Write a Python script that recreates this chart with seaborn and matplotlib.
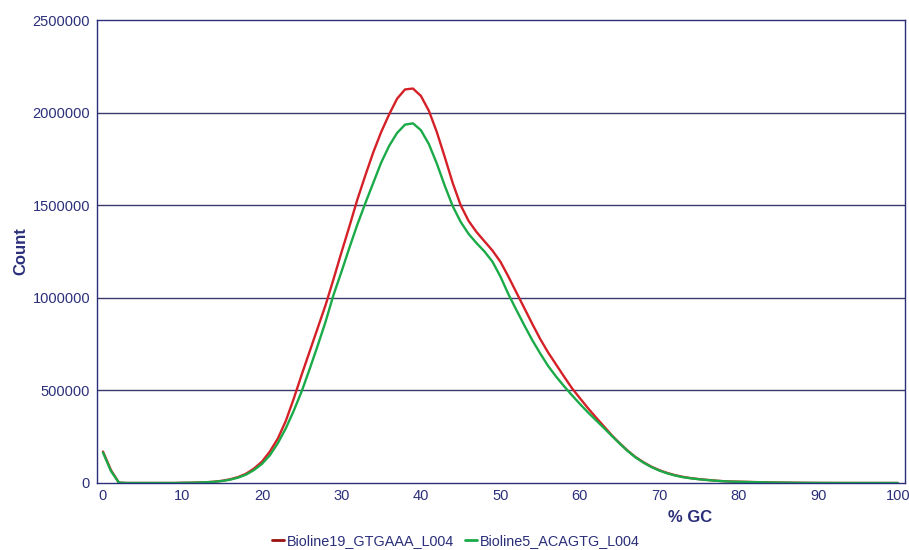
import numpy as np
import pandas as pd
import matplotlib
matplotlib.use("Agg")
import matplotlib.pyplot as plt
import seaborn as sns
from matplotlib.lines import Line2D

gc_percent = list(range(0, 101))

bioline19 = [170000, 70000, 2000, 0, 0, 0, 0, 0, 0, 0,
             1000, 1500, 2500, 4000, 7000, 12000, 20000, 32000, 50000, 78000,
             115000, 170000, 240000, 335000, 455000, 585000, 710000, 835000, 960000, 1100000,
             1245000, 1385000, 1530000, 1660000, 1785000, 1895000, 1990000, 2075000, 2125000, 2130000,
             2090000, 2010000, 1895000, 1760000, 1620000, 1500000, 1415000, 1355000, 1305000, 1255000,
             1195000, 1115000, 1030000, 945000, 860000, 778000, 705000, 640000, 575000, 512000,
             458000, 405000, 355000, 307000, 258000, 215000, 175000, 140000, 112000, 88000,
             69000, 54000, 42000, 33000, 26000, 21000, 17000, 13000, 10000, 8000,
             7000, 6000, 5000, 4000, 3000, 2500, 2000, 1500, 1000, 700,
             500, 300, 200, 100, 50, 0, 0, 0, 0, 0, 0]

bioline5 = [165000, 65000, 2000, 0, 0, 0, 0, 0, 0, 0,
            1000, 1500, 2500, 4000, 6500, 11000, 18000, 29000, 45000, 70000,
            103000, 150000, 215000, 295000, 390000, 495000, 615000, 740000, 870000, 1015000,
            1140000, 1270000, 1395000, 1510000, 1620000, 1730000, 1820000, 1890000, 1935000, 1942000,
            1905000, 1830000, 1725000, 1605000, 1495000, 1410000, 1345000, 1295000, 1250000, 1195000,
            1115000, 1020000, 935000, 852000, 772000, 700000, 632000, 575000, 523000, 474000,
            427000, 382000, 340000, 298000, 255000, 213000, 173000, 138000, 110000, 86000,
            67000, 52000, 40000, 31000, 25000, 20000, 16000, 12500, 9500, 7500,
            6500, 5500, 4500, 3500, 2800, 2200, 1700, 1200, 800, 500,
            300, 200, 100, 50, 0, 0, 0, 0, 0, 0, 0]

series_names = ["Bioline19_GTGAAA_L004", "Bioline5_ACAGTG_L004"]
y_ticks = [0, 500000, 1000000, 1500000, 2000000, 2500000]
x_ticks = list(range(0, 101, 10))

df = pd.DataFrame({
    "gc": gc_percent * 2,
    "count": bioline19 + bioline5,
    "series": [series_names[0]] * len(gc_percent) + [series_names[1]] * len(gc_percent),
})

sns.set_style("white")
plt.rcParams["font.family"] = ["Liberation Sans", "DejaVu Sans"]

navy = "#2b2f7a"
fig = plt.figure(figsize=(9.09, 5.5), dpi=100)
ax = fig.add_axes([97 / 909, 67 / 550, (905 - 97) / 909, (483 - 20) / 550])

palette = {series_names[0]: "#d42027", series_names[1]: "#1aaa48"}
sns.lineplot(data=df, x="gc", y="count", hue="series", palette=palette,
             linewidth=1.7, ax=ax, legend=False)

ax.set_xlim(-0.75, 100.9)
ax.set_ylim(0, 2500000)
ax.set_xticks(x_ticks)
ax.set_yticks(y_ticks)
ax.set_xticklabels([str(t) for t in x_ticks], color=navy, fontsize=10.5)
ax.set_yticklabels([str(t) for t in y_ticks], color=navy, fontsize=10.5)
ax.tick_params(axis="x", direction="in", length=4, color=navy, pad=4)
ax.tick_params(axis="y", direction="out", length=3, color=navy, pad=2)
for yv in y_ticks[1:-1]:
    ax.axhline(yv, color="#3a3a6a", linewidth=1.0, zorder=0)
for s in ax.spines.values():
    s.set_color(navy)
    s.set_linewidth(1.0)

ax.set_xlabel("")
ax.set_ylabel("Count", color=navy, fontsize=12, fontweight="bold", labelpad=3)
fig.text(690 / 909, 1 - 518 / 550, "% GC", color=navy, fontsize=12,
         fontweight="bold", ha="center", va="center")

handles = [Line2D([0], [0], color="#9b1010", lw=2),
           Line2D([0], [0], color="#1aaa48", lw=2)]
leg = fig.legend(handles, series_names, loc="center", bbox_to_anchor=(456 / 909, 1 - 541 / 550),
                 ncol=2, frameon=False, handlelength=0.8, handletextpad=0.2,
                 columnspacing=0.8, fontsize=10.4)
for t in leg.get_texts():
    t.set_color(navy)

fig.savefig("out.png", dpi=100)
